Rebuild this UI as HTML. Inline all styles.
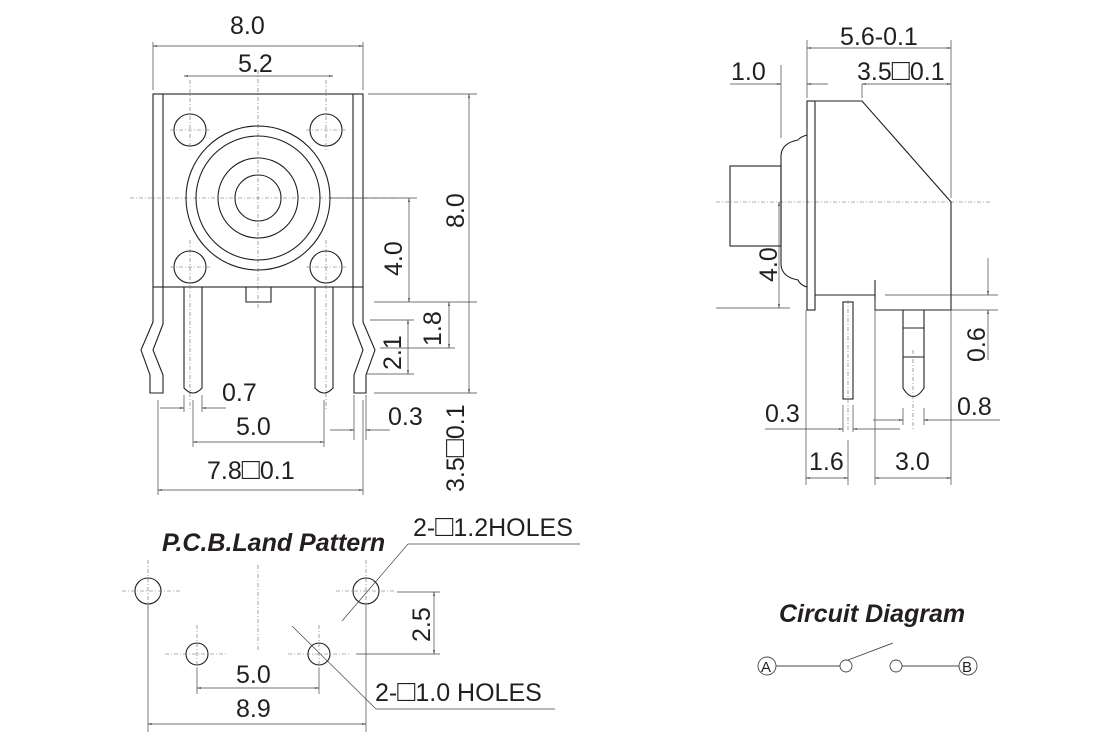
<!DOCTYPE html>
<html><head><style>
html,body{margin:0;padding:0;background:#fff;}
svg{display:block;}
text{font-family:"Liberation Sans",Arial,sans-serif;fill:#231f20;}
.o{fill:none;stroke:#231f20;stroke-width:1.1;}
.t{fill:none;stroke:#444;stroke-width:0.7;}
.c{fill:none;stroke:#666;stroke-width:0.6;stroke-dasharray:4 2 1 2;}
.d{font-size:25px;}
.q{font-size:30px;}
</style></head><body>
<svg width="1120" height="745" viewBox="0 0 1120 745" xmlns="http://www.w3.org/2000/svg">
<defs><marker id="a" viewBox="0 0 10 10" refX="10" refY="5" markerWidth="6" markerHeight="6" orient="auto-start-reverse"><path d="M0,3 L10,5 L0,7z" fill="#231f20"/></marker></defs>

<line class="c" x1="258" y1="70" x2="258" y2="310"/>
<line class="c" x1="130" y1="198" x2="400" y2="198"/>
<rect class="o" x="153" y="94" width="210" height="193"/>
<line class="o" x1="163" y1="94" x2="163" y2="287"/>
<line class="o" x1="353" y1="94" x2="353" y2="287"/>
<g class="o">
<circle cx="190" cy="130" r="16"/><circle cx="326" cy="130" r="16"/>
<circle cx="190" cy="267" r="16"/><circle cx="326" cy="267" r="16"/>
<circle cx="258" cy="198" r="72"/><circle cx="258" cy="198" r="62"/>
<circle cx="258" cy="198" r="40"/><circle cx="258" cy="198" r="23"/>
</g>
<g class="c"><line x1="170" y1="130" x2="210" y2="130"/><line x1="306" y1="130" x2="346" y2="130"/>
<line x1="170" y1="267" x2="210" y2="267"/><line x1="306" y1="267" x2="346" y2="267"/>
<line x1="190" y1="80" x2="190" y2="150"/><line x1="326" y1="80" x2="326" y2="150"/>
<line x1="190" y1="240" x2="190" y2="410"/><line x1="326" y1="240" x2="326" y2="410"/></g>
<path class="o" d="M246,287 V302 H271 V287"/>
<path class="o" d="M184,287 V388 Q193,398 202,388 V287"/>
<path class="o" d="M315,287 V388 Q324,398 333,388 V287"/>
<path class="o" d="M153,287 V322 L141,350 L150,375 V393 H163 V375 L153,350 L163,324 V287"/>
<path class="o" d="M363,287 V322 L375,350 L366,375 V393 H354 V375 L363,350 L353,324 V287"/>

<g class="t">
<line x1="153" y1="42" x2="153" y2="90"/><line x1="363" y1="42" x2="363" y2="90"/>
<line x1="153" y1="46" x2="363" y2="46" marker-start="url(#a)" marker-end="url(#a)"/>
<line x1="184" y1="76" x2="333" y2="76" marker-start="url(#a)" marker-end="url(#a)"/>
<line x1="368" y1="94" x2="477" y2="94"/>
<line x1="469" y1="94" x2="469" y2="393" marker-start="url(#a)" marker-end="url(#a)"/>
<line x1="330" y1="198" x2="417" y2="198"/>
<line x1="409" y1="198" x2="409" y2="302" marker-start="url(#a)" marker-end="url(#a)"/>
<line x1="374" y1="302" x2="477" y2="302"/>
<line x1="449" y1="302" x2="449" y2="348" marker-start="url(#a)" marker-end="url(#a)"/>
<line x1="380" y1="348" x2="455" y2="348"/>
<line x1="370" y1="320" x2="414" y2="320"/>
<line x1="408" y1="320" x2="408" y2="374" marker-start="url(#a)" marker-end="url(#a)"/>
<line x1="366" y1="374" x2="414" y2="374"/>
<line x1="374" y1="393" x2="477" y2="393"/>
<line x1="158" y1="400" x2="158" y2="495"/><line x1="363" y1="400" x2="363" y2="495"/>
<line x1="158" y1="490" x2="363" y2="490" marker-start="url(#a)" marker-end="url(#a)"/>
<line x1="184" y1="395" x2="184" y2="412"/><line x1="202" y1="395" x2="202" y2="412"/>
<line x1="160" y1="408" x2="184" y2="408" marker-end="url(#a)"/><line x1="226" y1="408" x2="202" y2="408" marker-end="url(#a)"/>
<line x1="193" y1="400" x2="193" y2="447"/><line x1="324" y1="400" x2="324" y2="447"/>
<line x1="193" y1="442" x2="324" y2="442" marker-start="url(#a)" marker-end="url(#a)"/>
<line x1="354" y1="395" x2="354" y2="440"/><line x1="366" y1="395" x2="366" y2="440"/>
<line x1="330" y1="430" x2="354" y2="430" marker-end="url(#a)"/><line x1="390" y1="430" x2="366" y2="430" marker-end="url(#a)"/>
</g>
<text class="d" x="230" y="34">8.0</text>
<text class="d" x="238" y="72">5.2</text>
<text class="d" x="222" y="401">0.7</text>
<text class="d" x="236" y="435">5.0</text>
<text class="d" x="388" y="425">0.3</text>
<text class="d" x="207" y="479">7.8<tspan class="q">&#9633;</tspan>0.1</text>
<text class="d" transform="translate(464,228) rotate(-90)">8.0</text>
<text class="d" transform="translate(402,276) rotate(-90)">4.0</text>
<text class="d" transform="translate(441,346) rotate(-90)">1.8</text>
<text class="d" transform="translate(401,370) rotate(-90)">2.1</text>
<text class="d" transform="translate(464,492) rotate(-90)">3.5<tspan class="q">&#9633;</tspan>0.1</text>

<line class="c" x1="716" y1="202" x2="990" y2="202"/>
<rect class="o" x="807" y="101" width="8" height="209"/>
<path class="o" d="M815,101 H862 L951,202 V310 H875 V295 H815"/>
<line class="o" x1="875" y1="280" x2="875" y2="295"/>
<rect class="o" x="730" y="166" width="51" height="80"/>
<path class="o" d="M807,135 Q800,137 798,140 Q782,143 781,155 V265 Q782,277 798,280 Q800,285 807,287"/>
<rect class="o" x="843" y="302" width="10" height="97"/>
<path class="o" d="M903,310 V388 Q913,405 924,388 V310 M903,328 H924 M903,357 H924"/>
<line class="c" x1="848" y1="300" x2="848" y2="430"/><line class="c" x1="913" y1="350" x2="913" y2="430"/>
<g class="t">
<line x1="807" y1="40" x2="807" y2="98"/><line x1="951" y1="40" x2="951" y2="198"/>
<line x1="807" y1="48" x2="951" y2="48" marker-start="url(#a)" marker-end="url(#a)"/>
<line x1="862" y1="84" x2="862" y2="98"/>
<line x1="862" y1="84" x2="951" y2="84" marker-start="url(#a)" marker-end="url(#a)"/>
<line x1="781" y1="65" x2="781" y2="138"/>
<line x1="730" y1="84" x2="781" y2="84" marker-end="url(#a)"/><line x1="828" y1="84" x2="807" y2="84" marker-end="url(#a)"/>
<line x1="779" y1="202" x2="779" y2="308" marker-start="url(#a)" marker-end="url(#a)"/>
<line x1="716" y1="308" x2="790" y2="308"/>
<line x1="885" y1="295" x2="998" y2="295"/>
<line x1="988" y1="258" x2="988" y2="295" marker-end="url(#a)"/>
<line x1="988" y1="360" x2="988" y2="310" marker-end="url(#a)"/>
<line x1="951" y1="310" x2="998" y2="310"/>
<line x1="806" y1="310" x2="806" y2="485"/><line x1="875" y1="300" x2="875" y2="485"/><line x1="951" y1="310" x2="951" y2="485"/>
<line x1="848" y1="440" x2="848" y2="485"/>
<line x1="806" y1="478" x2="848" y2="478" marker-start="url(#a)" marker-end="url(#a)"/>
<line x1="875" y1="478" x2="951" y2="478" marker-start="url(#a)" marker-end="url(#a)"/>
<line x1="843" y1="405" x2="843" y2="432"/><line x1="853" y1="405" x2="853" y2="432"/>
<line x1="765" y1="429" x2="843" y2="429" marker-end="url(#a)"/><line x1="900" y1="429" x2="853" y2="429" marker-end="url(#a)"/>
<line x1="903" y1="408" x2="903" y2="425"/><line x1="924" y1="408" x2="924" y2="425"/>
<line x1="873" y1="420" x2="903" y2="420" marker-end="url(#a)"/><line x1="1000" y1="420" x2="924" y2="420" marker-end="url(#a)"/>
</g>
<text class="d" x="840" y="45">5.6-0.1</text>
<text class="d" x="731" y="80">1.0</text>
<text class="d" x="857" y="80">3.5<tspan class="q">&#9633;</tspan>0.1</text>
<text class="d" transform="translate(777,282) rotate(-90)">4.0</text>
<text class="d" transform="translate(985,362) rotate(-90)">0.6</text>
<text class="d" x="765" y="422">0.3</text>
<text class="d" x="957" y="415">0.8</text>
<text class="d" x="809" y="470">1.6</text>
<text class="d" x="895" y="470">3.0</text>

<text x="162" y="551" style="font-size:25px;font-weight:bold;font-style:italic">P.C.B.Land Pattern</text>
<g class="o"><circle cx="148" cy="591" r="13"/><circle cx="366" cy="591" r="13"/><circle cx="197" cy="654" r="11"/><circle cx="319" cy="654" r="11"/></g>
<g class="c">
<line x1="122" y1="591" x2="182" y2="591"/><line x1="336" y1="591" x2="396" y2="591"/>
<line x1="148" y1="560" x2="148" y2="605"/><line x1="366" y1="560" x2="366" y2="605"/>
<line x1="258" y1="565" x2="258" y2="650"/>
<line x1="165" y1="654" x2="228" y2="654"/><line x1="288" y1="654" x2="350" y2="654"/>
<line x1="197" y1="625" x2="197" y2="668"/><line x1="319" y1="625" x2="319" y2="668"/>
</g>
<g class="t">
<line x1="148" y1="605" x2="148" y2="732"/><line x1="366" y1="605" x2="366" y2="732"/>
<line x1="148" y1="724" x2="366" y2="724" marker-start="url(#a)" marker-end="url(#a)"/>
<line x1="197" y1="668" x2="197" y2="694"/><line x1="319" y1="668" x2="319" y2="694"/>
<line x1="197" y1="688" x2="319" y2="688" marker-start="url(#a)" marker-end="url(#a)"/>
<line x1="397" y1="592" x2="440" y2="592"/><line x1="356" y1="654" x2="440" y2="654"/>
<line x1="434" y1="592" x2="434" y2="654" marker-start="url(#a)" marker-end="url(#a)"/>
<line x1="342" y1="621" x2="408" y2="544"/><line x1="408" y1="544" x2="580" y2="544"/>
<line x1="292" y1="626" x2="376" y2="709"/><line x1="376" y1="709" x2="555" y2="709"/>
</g>
<text class="d" x="413" y="536">2-<tspan class="q">&#9633;</tspan>1.2HOLES</text>
<text class="d" x="375" y="701">2-<tspan class="q">&#9633;</tspan>1.0 HOLES</text>
<text class="d" x="236" y="683">5.0</text>
<text class="d" x="236" y="717">8.9</text>
<text class="d" transform="translate(430,642) rotate(-90)">2.5</text>

<text x="779" y="622" style="font-size:25px;font-weight:bold;font-style:italic">Circuit Diagram</text>
<g class="t" style="stroke-width:0.9">
<circle cx="767" cy="666" r="9"/><circle cx="968" cy="666" r="9"/>
<circle cx="846" cy="666" r="6"/><circle cx="896" cy="666" r="6"/>
<line x1="776" y1="666" x2="840" y2="666"/><line x1="902" y1="666" x2="959" y2="666"/>
<line x1="848" y1="660" x2="893" y2="643"/>
</g>
<text x="761" y="672" style="font-size:15px">A</text>
<text x="962" y="672" style="font-size:15px">B</text>
</svg>
</body></html>
